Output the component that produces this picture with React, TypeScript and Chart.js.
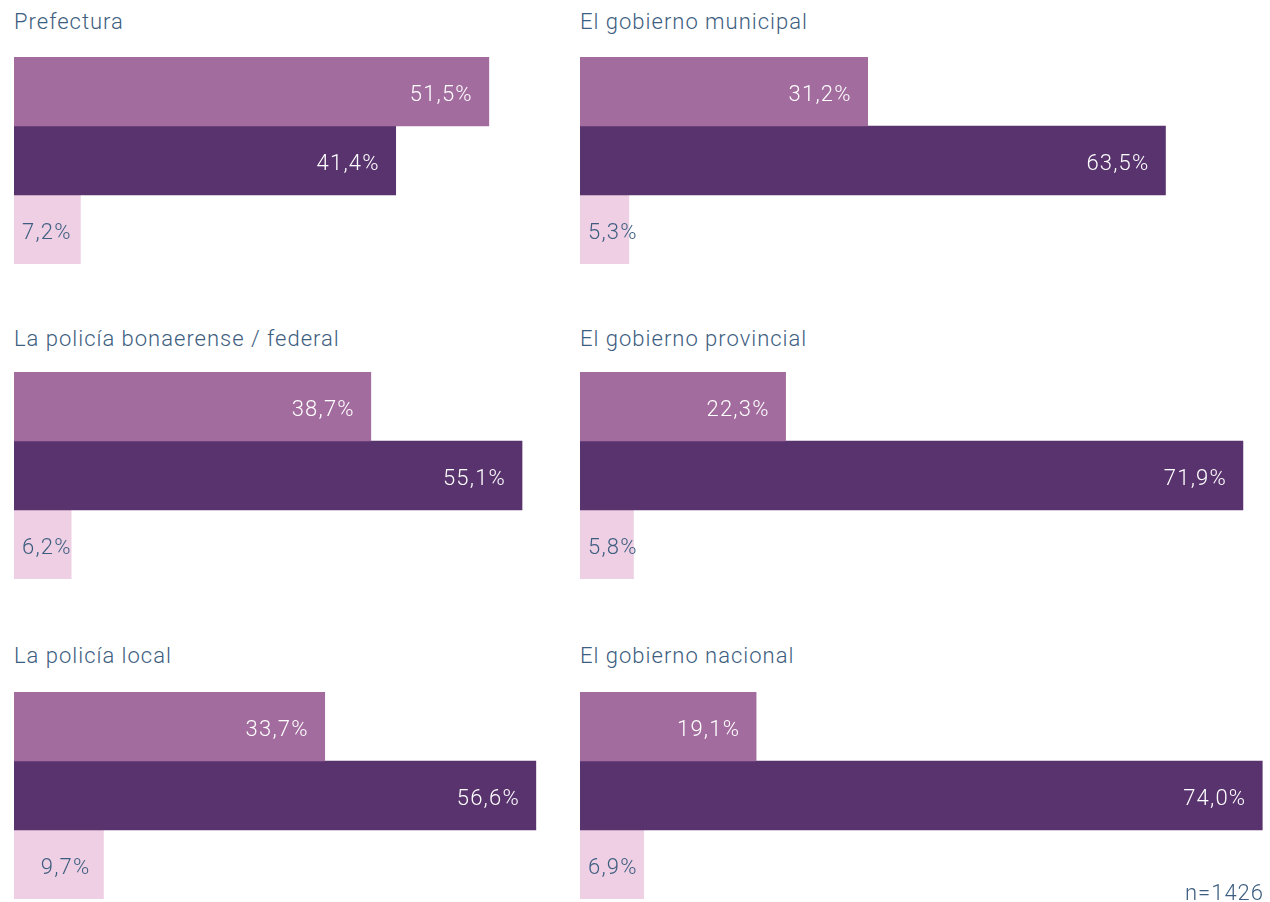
import React, { useEffect, useRef } from "react";
import { Chart, registerables } from "chart.js";

Chart.register(...registerables);

// ---- Data ----
const panelTitles = [
  "Prefectura",
  "La policía bonaerense / federal",
  "La policía local",
  "El gobierno municipal",
  "El gobierno provincial",
  "El gobierno nacional",
];
const seriesNames = ["Serie 1", "Serie 2", "Serie 3"];
const serie1 = [51.5, 38.7, 33.7, 31.2, 22.3, 19.1];
const serie2 = [41.4, 55.1, 56.6, 63.5, 71.9, 74.0];
const serie3 = [7.2, 6.2, 9.7, 5.3, 5.8, 6.9];
const noteText = "n=1426";

// ---- Styles ----
const colors = ["#a36c9f", "#59336e", "#eecfe3"];
const textColor = "#3d5e80";
const FONT = "Roboto, 'DejaVu Sans', sans-serif";
const PX_PER_PCT = 9.22;
const colLeft = [14, 580];
const colWidth = [566, 690];
const rowBarTop = [57, 372, 692];
const rowTitleTop = [9, 326, 643];
const barAreaHeight = 207;

const fmt = (v: number) => v.toFixed(1).replace(".", ",") + "%";

const labelPlugin = {
  id: "valueLabels",
  afterDatasetsDraw(chart: any) {
    const ctx = chart.ctx as CanvasRenderingContext2D;
    ctx.save();
    ctx.font = "300 22px " + FONT;
    (ctx as any).letterSpacing = "1.2px";
    ctx.textBaseline = "middle";
    ctx.textAlign = "right";
    chart.data.datasets.forEach((ds: any, di: number) => {
      const meta = chart.getDatasetMeta(di);
      meta.data.forEach((el: any, i: number) => {
        const v = ds.data[i] as number;
        const txt = fmt(v);
        const w = ctx.measureText(txt).width;
        const { x, y, base } = el.getProps(["x", "y", "base"], true);
        const right = di === 2 ? Math.max(x - 13, base + 8 + w) : x - 16;
        ctx.fillStyle = di === 2 ? textColor : "#ffffff";
        ctx.fillText(txt, right, y + 4);
      });
    });
    ctx.restore();
  },
};

function Panel({ index }: { index: number }) {
  const ref = useRef<HTMLCanvasElement | null>(null);
  const col = index < 3 ? 0 : 1;
  const row = index % 3;
  const width = colWidth[col];
  useEffect(() => {
    if (!ref.current) return;
    const chart = new Chart(ref.current, {
      type: "bar",
      data: {
        labels: [panelTitles[index]],
        datasets: [
          { label: seriesNames[0], data: [serie1[index]], backgroundColor: colors[0] },
          { label: seriesNames[1], data: [serie2[index]], backgroundColor: colors[1] },
          { label: seriesNames[2], data: [serie3[index]], backgroundColor: colors[2] },
        ],
      },
      options: {
        indexAxis: "y",
        responsive: false,
        animation: false,
        layout: { padding: 0 },
        datasets: { bar: { categoryPercentage: 1, barPercentage: 1, borderWidth: 0 } },
        scales: {
          x: { display: false, min: 0, max: width / PX_PER_PCT },
          y: { display: false },
        },
        plugins: {
          legend: { display: false },
          tooltip: { enabled: false },
          title: { display: false },
        },
      } as any,
      plugins: [labelPlugin],
    });
    return () => chart.destroy();
  }, [index, width]);
  return (
    <>
      <div
        style={{
          position: "absolute",
          left: colLeft[col],
          top: rowTitleTop[row],
          font: "300 22px " + FONT,
          letterSpacing: "1px",
          color: textColor,
          whiteSpace: "nowrap",
        }}
      >
        {panelTitles[index]}
      </div>
      <canvas
        ref={ref}
        width={width}
        height={barAreaHeight}
        style={{
          position: "absolute",
          left: colLeft[col],
          top: rowBarTop[row],
          width,
          height: barAreaHeight,
        }}
      />
    </>
  );
}

export default function App() {
  return (
    <div
      style={{
        position: "absolute",
        left: 0,
        top: 0,
        width: 1270,
        height: 902,
        background: "#ffffff",
        overflow: "hidden",
      }}
    >
      {panelTitles.map((_, i) => (
        <Panel key={i} index={i} />
      ))}
      <div
        style={{
          position: "absolute",
          right: 6,
          top: 880,
          font: "300 22px " + FONT,
          letterSpacing: "1px",
          color: textColor,
        }}
      >
        {noteText}
      </div>
    </div>
  );
}
